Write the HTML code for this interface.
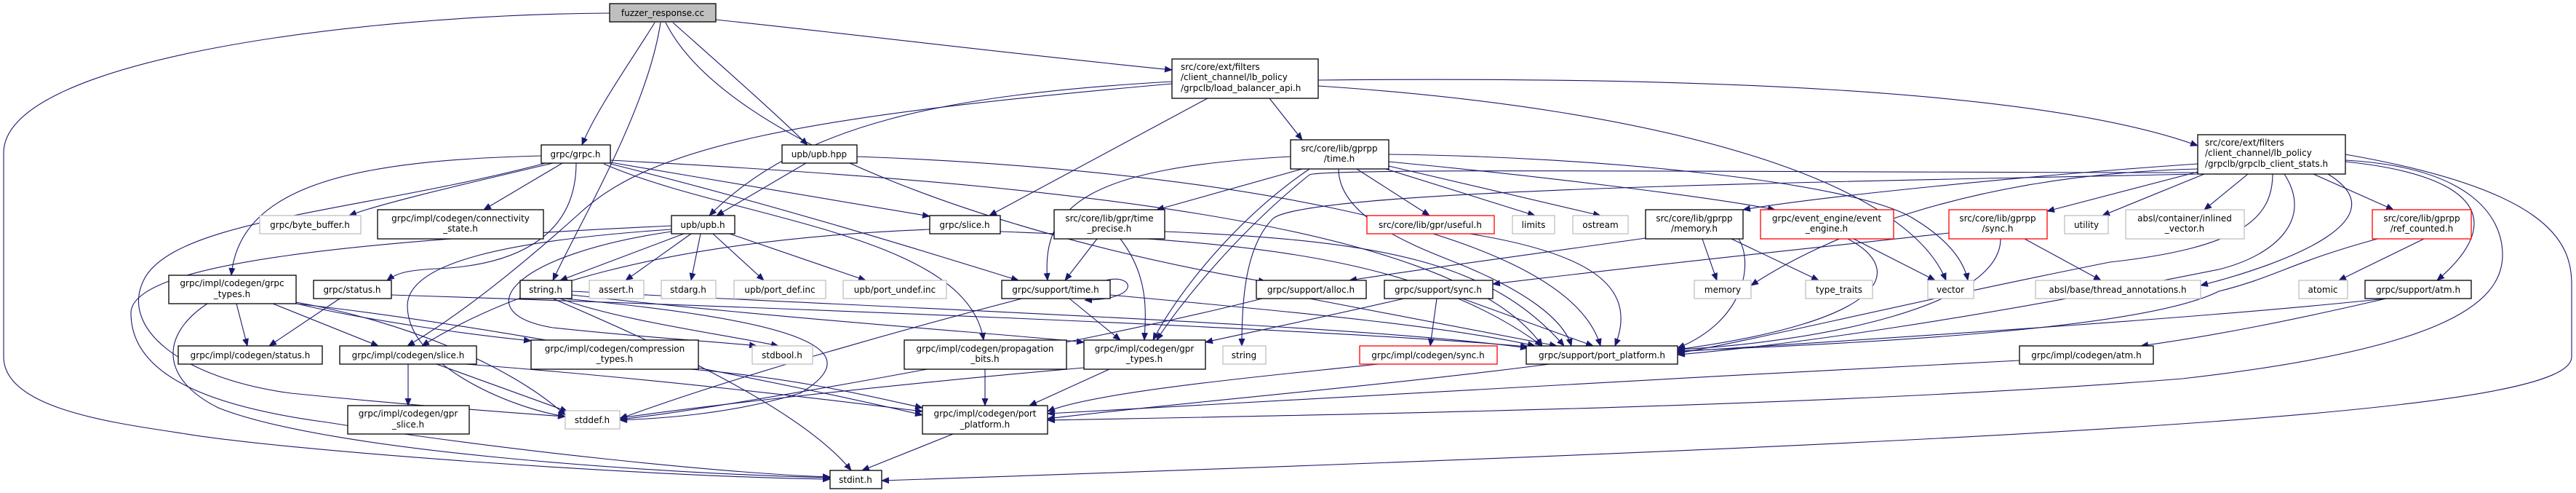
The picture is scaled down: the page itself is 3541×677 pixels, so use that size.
<!DOCTYPE html>
<html><head><meta charset="utf-8"><style>
html,body{margin:0;padding:0;background:#fff;}
svg{display:block;}
text{font-family:"DejaVu Sans","Liberation Sans",sans-serif;font-size:12px;fill:#000;}
.n{fill:#fff;stroke:#000;stroke-width:1.3;}
.g{fill:#fff;stroke:#bfbfbf;stroke-width:1.3;}
.r{fill:#fff;stroke:#ff0000;stroke-width:1.3;}
.e{fill:none;stroke:#191970;stroke-width:1.1;marker-end:url(#a);}
</style></head><body>
<svg width="3541" height="677" viewBox="0 0 3541 677" xmlns="http://www.w3.org/2000/svg">
<defs><marker id="a" markerWidth="11" markerHeight="9" refX="10" refY="4.5" orient="auto" markerUnits="userSpaceOnUse"><path d="M0,0L11,4.5L0,9z" fill="#191970"/></marker></defs>
<g>
<!-- fuzzer edges -->
<path class="e" d="M900,31 C870,80 820,150 800,199"/>
<path class="e" d="M908,31 C890,150 800,300 760,385"/>
<path class="e" d="M925,31 C980,80 1060,150 1110,199"/>
<path class="e" d="M915,31 C1000,200 1400,330 1740,387"/>
<path class="e" d="M984,27 C1200,50 1400,75 1611,96"/>
<path class="e" d="M838,18 C500,20 5,80 5,210 L5,490 C5,560 150,580 250,595 C400,620 900,655 1141,658"/>
<!-- grpc.h -->
<path class="e" d="M760,224 C650,250 520,280 480,296"/>
<path class="e" d="M773,224 L665,288"/>
<path class="e" d="M744,214 C500,220 330,250 318,378"/>
<path class="e" d="M792,224 C792,330 700,365 600,369 C560,371 545,375 532,385"/>
<path class="e" d="M839,223 C1000,250 1200,285 1278,297"/>
<path class="e" d="M839,225 C1100,290 1350,370 1400,385"/>
<path class="e" d="M830,225 C1000,300 1330,320 1352,467"/>
<path class="e" d="M839,220 C1400,250 2000,300 2120,475"/>
<path class="e" d="M750,224 C500,290 250,300 200,380 C160,450 250,520 400,540 C600,560 720,568 777,572"/>
<!-- upb.hpp -->
<path class="e" d="M1108,224 L985,296"/>
<path class="e" d="M1178,215 C1600,230 2150,300 2200,475"/>
<!-- load_balancer_api -->
<path class="e" d="M1611,112 C1300,130 1100,170 975,296"/>
<path class="e" d="M1660,135 L1360,296"/>
<path class="e" d="M1745,135 L1790,192"/>
<path class="e" d="M1812,110 C2300,105 2800,120 3021,200"/>
<path class="e" d="M1812,118 C2300,150 2620,250 2675,385"/>
<path class="e" d="M1611,115 C1100,160 900,200 800,290 C700,380 620,440 560,475"/>
<!-- time.h -->
<path class="e" d="M1774,215 C1500,230 1430,280 1440,385"/>
<path class="e" d="M1790,232 L1590,288"/>
<path class="e" d="M1800,232 C1700,300 1620,400 1585,467"/>
<path class="e" d="M1865,232 L1965,296"/>
<path class="e" d="M1905,232 L2110,296"/>
<path class="e" d="M1909,228 L2200,296"/>
<path class="e" d="M1909,222 C2100,240 2350,270 2440,288"/>
<path class="e" d="M1840,232 C1840,300 1950,340 2000,360 C2100,400 2150,440 2160,475"/>
<path class="e" d="M1909,212 C2200,215 2550,250 2630,300 C2680,330 2700,360 2705,385"/>
<!-- client stats -->
<path class="e" d="M3021,225 C2800,240 2500,270 2396,288"/>
<path class="e" d="M3021,236 L2814,290"/>
<path class="e" d="M3030,239 L2890,296"/>
<path class="e" d="M3090,239 L3030,288"/>
<path class="e" d="M3180,239 L3290,288"/>
<path class="e" d="M3224,222 C3400,240 3450,300 3350,385"/>
<path class="e" d="M3200,239 C3300,300 3150,360 3025,392"/>
<path class="e" d="M3124,239 C3124,300 3080,340 2900,360 C2600,420 2400,470 2306,485"/>
<path class="e" d="M3140,239 C3180,300 3130,350 3050,370 C2700,440 2450,475 2306,487"/>
<path class="e" d="M3224,212 C3500,260 3535,330 3535,390 L3535,490 C3535,560 3000,600 1212,660"/>
<path class="e" d="M3224,220 C3400,230 3440,300 3440,350 C3440,420 3350,480 3000,520 C2500,560 1800,570 1440,577"/>
<path class="e" d="M3021,239 C2500,250 1800,260 1750,300 C1710,340 1707,420 1707,475"/>
<path class="e" d="M3021,237 C2500,237 1820,230 1800,240 C1700,320 1620,420 1590,467"/>
<path class="e" d="M3021,232 C2700,240 2500,330 2407,392"/>
<!-- memory.h, event engine, sync -->
<path class="e" d="M2340,328 L2360,385"/>
<path class="e" d="M2380,328 L2500,385"/>
<path class="e" d="M2390,328 C2410,360 2400,440 2306,478"/>
<path class="e" d="M2262,327 C2100,350 1950,370 1855,385"/>
<path class="e" d="M2548,328 L2660,385"/>
<path class="e" d="M2540,328 C2620,370 2600,440 2306,480"/>
<path class="e" d="M2679,320 C2500,340 2300,360 2052,390"/>
<path class="e" d="M2783,328 L2888,385"/>
<path class="e" d="M2750,328 C2750,420 2500,470 2306,480"/>
<path class="e" d="M3332,328 L3215,385"/>
<path class="e" d="M3268,328 C3150,360 3130,380 3050,400 C2950,450 2600,470 2306,482"/>
<path class="e" d="M3280,410 C3150,440 3050,460 2943,475"/>
<path class="e" d="M3280,410 C3000,440 2500,470 2306,483"/>
<path class="e" d="M2776,495 C2300,520 1700,550 1440,568"/>
<path class="e" d="M2130,500 C1900,530 1600,555 1440,575"/>
<path class="e" d="M1895,500 C1700,520 1500,540 1440,565"/>
<!-- support/time -->
<path class="e" d="M1520,385 C1560,375 1570,412 1491,412"/>
<path class="e" d="M1470,410 L1540,467"/>
<path class="e" d="M1405,410 C1250,450 1000,520 852,575"/>
<path class="e" d="M1526,405 C1800,430 2000,450 2110,475"/>
<path class="e" d="M1508,328 L1464,385"/>
<path class="e" d="M1540,328 C1580,380 1575,430 1573,467"/>
<path class="e" d="M1601,318 C1900,330 2050,360 2150,475"/>
<path class="e" d="M1278,315 C900,330 700,400 580,475"/>
<path class="e" d="M1375,318 C1700,330 1950,350 2120,475"/>
<path class="e" d="M1735,410 C1500,470 1000,560 852,576"/>
<path class="e" d="M1800,410 L2140,475"/>
<path class="e" d="M1975,410 L1966,475"/>
<path class="e" d="M2010,410 L2190,475"/>
<path class="e" d="M1930,410 C1800,440 1700,460 1657,470"/>
<path class="e" d="M2020,321 C2200,350 2250,400 2220,475"/>
<!-- string.h -->
<path class="e" d="M770,410 C850,440 1000,460 1070,475"/>
<path class="e" d="M775,410 C1100,440 1200,480 1100,540 C1000,570 900,575 852,577"/>
<path class="e" d="M760,410 C900,470 1100,560 1170,646"/>
<path class="e" d="M786,405 C1100,440 1400,460 1490,470"/>
<path class="e" d="M786,400 C1400,430 1900,450 2100,478"/>
<!-- upb.h -->
<path class="e" d="M940,321 L770,385"/>
<path class="e" d="M950,321 L860,385"/>
<path class="e" d="M963,321 L950,385"/>
<path class="e" d="M980,321 L1050,385"/>
<path class="e" d="M1003,321 L1190,385"/>
<path class="e" d="M923,315 C700,330 560,360 560,420 C560,500 700,560 777,572"/>
<path class="e" d="M923,318 C700,350 640,430 760,450 C900,465 1000,470 1040,475"/>
<path class="e" d="M923,310 C500,330 180,360 180,430 C180,520 300,560 450,580 C700,620 1000,650 1141,655"/>
<!-- grpc_types etc -->
<path class="e" d="M325,417 L340,475"/>
<path class="e" d="M375,417 L520,475"/>
<path class="e" d="M400,415 C500,440 650,460 730,468"/>
<path class="e" d="M407,415 C550,440 700,500 777,570"/>
<path class="e" d="M407,417 C700,450 1100,530 1268,570"/>
<path class="e" d="M285,417 C220,460 220,520 300,560 C450,620 900,650 1141,656"/>
<path class="e" d="M467,410 L370,475"/>
<path class="e" d="M538,405 C1000,420 1800,450 2100,476"/>
<path class="e" d="M561,500 L561,557"/>
<path class="e" d="M600,500 L780,565"/>
<path class="e" d="M640,500 C900,520 1150,550 1268,565"/>
<path class="e" d="M950,507 C1100,520 1200,545 1268,560"/>
<path class="e" d="M1354,507 L1354,557"/>
<path class="e" d="M1525,507 L1415,557"/>
<path class="e" d="M1490,505 C1200,530 950,560 852,574"/>
<path class="e" d="M1310,596 L1185,646"/>
</g>
<!-- nodes -->
<rect x="838" y="5" width="146" height="25" fill="#bfbfbf" stroke="#000" stroke-width="1.3"/><text x="911" y="22" text-anchor="middle">fuzzer_response.cc</text>
<rect class="n" x="744" y="199" width="95" height="25"/><text x="791" y="216" text-anchor="middle">grpc/grpc.h</text>
<rect class="n" x="1075" y="199" width="103" height="25"/><text x="1126" y="216" text-anchor="middle">upb/upb.hpp</text>
<rect class="n" x="1611" y="81" width="201" height="54"/><text x="1623" y="96">src/core/ext/filters</text><text x="1623" y="110">/client_channel/lb_policy</text><text x="1623" y="125">/grpclb/load_balancer_api.h</text>
<rect class="n" x="3021" y="185" width="203" height="54"/><text x="3031" y="200">src/core/ext/filters</text><text x="3031" y="214">/client_channel/lb_policy</text><text x="3031" y="229">/grpclb/grpclb_client_stats.h</text>
<rect class="n" x="1774" y="192" width="135" height="40"/><text x="1841" y="208" text-anchor="middle">src/core/lib/gprpp</text><text x="1841" y="222" text-anchor="middle">/time.h</text>
<rect class="g" x="357" y="296" width="139" height="25"/><text x="426" y="313" text-anchor="middle">grpc/byte_buffer.h</text>
<rect class="n" x="519" y="288" width="228" height="40"/><text x="633" y="304" text-anchor="middle">grpc/impl/codegen/connectivity</text><text x="633" y="318" text-anchor="middle">_state.h</text>
<rect class="n" x="923" y="296" width="87" height="25"/><text x="966" y="313" text-anchor="middle">upb/upb.h</text>
<rect class="n" x="1278" y="296" width="97" height="25"/><text x="1326" y="313" text-anchor="middle">grpc/slice.h</text>
<rect class="n" x="1449" y="288" width="152" height="40"/><text x="1525" y="304" text-anchor="middle">src/core/lib/gpr/time</text><text x="1525" y="318" text-anchor="middle">_precise.h</text>
<rect class="r" x="1879" y="296" width="175" height="25"/><text x="1966" y="313" text-anchor="middle">src/core/lib/gpr/useful.h</text>
<rect class="g" x="2079" y="296" width="58" height="25"/><text x="2108" y="313" text-anchor="middle">limits</text>
<rect class="g" x="2162" y="296" width="76" height="25"/><text x="2200" y="313" text-anchor="middle">ostream</text>
<rect class="n" x="2262" y="288" width="134" height="40"/><text x="2329" y="304" text-anchor="middle">src/core/lib/gprpp</text><text x="2329" y="318" text-anchor="middle">/memory.h</text>
<rect class="r" x="2420" y="288" width="183" height="40"/><text x="2511" y="304" text-anchor="middle">grpc/event_engine/event</text><text x="2511" y="318" text-anchor="middle">_engine.h</text>
<rect class="r" x="2679" y="288" width="135" height="40"/><text x="2746" y="304" text-anchor="middle">src/core/lib/gprpp</text><text x="2746" y="318" text-anchor="middle">/sync.h</text>
<rect class="g" x="2838" y="296" width="60" height="25"/><text x="2868" y="313" text-anchor="middle">utility</text>
<rect class="g" x="2922" y="288" width="163" height="40"/><text x="3003" y="304" text-anchor="middle">absl/container/inlined</text><text x="3003" y="318" text-anchor="middle">_vector.h</text>
<rect class="r" x="3261" y="288" width="136" height="40"/><text x="3329" y="304" text-anchor="middle">src/core/lib/gprpp</text><text x="3329" y="318" text-anchor="middle">/ref_counted.h</text>
<rect class="n" x="232" y="378" width="175" height="39"/><text x="319" y="393" text-anchor="middle">grpc/impl/codegen/grpc</text><text x="319" y="408" text-anchor="middle">_types.h</text>
<rect class="n" x="431" y="385" width="107" height="25"/><text x="484" y="402" text-anchor="middle">grpc/status.h</text>
<rect class="n" x="715" y="385" width="71" height="25"/><text x="750" y="402" text-anchor="middle">string.h</text>
<rect class="g" x="810" y="385" width="75" height="25"/><text x="847" y="402" text-anchor="middle">assert.h</text>
<rect class="g" x="909" y="385" width="75" height="25"/><text x="946" y="402" text-anchor="middle">stdarg.h</text>
<rect class="g" x="1009" y="385" width="126" height="25"/><text x="1072" y="402" text-anchor="middle">upb/port_def.inc</text>
<rect class="g" x="1159" y="385" width="142" height="25"/><text x="1230" y="402" text-anchor="middle">upb/port_undef.inc</text>
<rect class="n" x="1377" y="385" width="149" height="25"/><text x="1451" y="402" text-anchor="middle">grpc/support/time.h</text>
<rect class="n" x="1727" y="385" width="151" height="25"/><text x="1802" y="402" text-anchor="middle">grpc/support/alloc.h</text>
<rect class="n" x="1903" y="385" width="149" height="25"/><text x="1977" y="402" text-anchor="middle">grpc/support/sync.h</text>
<rect class="g" x="2329" y="385" width="78" height="25"/><text x="2368" y="402" text-anchor="middle">memory</text>
<rect class="g" x="2482" y="385" width="92" height="25"/><text x="2528" y="402" text-anchor="middle">type_traits</text>
<rect class="g" x="2650" y="385" width="63" height="25"/><text x="2681" y="402" text-anchor="middle">vector</text>
<rect class="g" x="2798" y="385" width="227" height="25"/><text x="2911" y="402" text-anchor="middle">absl/base/thread_annotations.h</text>
<rect class="g" x="3160" y="385" width="67" height="25"/><text x="3193" y="402" text-anchor="middle">atomic</text>
<rect class="n" x="3251" y="385" width="146" height="25"/><text x="3324" y="402" text-anchor="middle">grpc/support/atm.h</text>
<rect class="n" x="245" y="475" width="198" height="25"/><text x="344" y="492" text-anchor="middle">grpc/impl/codegen/status.h</text>
<rect class="n" x="467" y="475" width="188" height="25"/><text x="561" y="492" text-anchor="middle">grpc/impl/codegen/slice.h</text>
<rect class="n" x="730" y="467" width="230" height="40"/><text x="845" y="483" text-anchor="middle">grpc/impl/codegen/compression</text><text x="845" y="497" text-anchor="middle">_types.h</text>
<rect class="g" x="1034" y="475" width="83" height="25"/><text x="1075" y="492" text-anchor="middle">stdbool.h</text>
<rect class="n" x="1243" y="467" width="223" height="40"/><text x="1354" y="483" text-anchor="middle">grpc/impl/codegen/propagation</text><text x="1354" y="497" text-anchor="middle">_bits.h</text>
<rect class="n" x="1490" y="467" width="167" height="40"/><text x="1573" y="483" text-anchor="middle">grpc/impl/codegen/gpr</text><text x="1573" y="497" text-anchor="middle">_types.h</text>
<rect class="g" x="1681" y="475" width="59" height="25"/><text x="1710" y="492" text-anchor="middle">string</text>
<rect class="r" x="1869" y="475" width="189" height="25"/><text x="1963" y="492" text-anchor="middle">grpc/impl/codegen/sync.h</text>
<rect class="n" x="2098" y="475" width="208" height="25"/><text x="2202" y="492" text-anchor="middle">grpc/support/port_platform.h</text>
<rect class="n" x="2776" y="475" width="184" height="25"/><text x="2868" y="492" text-anchor="middle">grpc/impl/codegen/atm.h</text>
<rect class="n" x="478" y="557" width="167" height="39"/><text x="561" y="572" text-anchor="middle">grpc/impl/codegen/gpr</text><text x="561" y="587" text-anchor="middle">_slice.h</text>
<rect class="g" x="777" y="564" width="75" height="25"/><text x="814" y="581" text-anchor="middle">stddef.h</text>
<rect class="n" x="1268" y="557" width="172" height="39"/><text x="1354" y="572" text-anchor="middle">grpc/impl/codegen/port</text><text x="1354" y="587" text-anchor="middle">_platform.h</text>
<rect class="n" x="1141" y="646" width="71" height="25"/><text x="1176" y="663" text-anchor="middle">stdint.h</text>
</svg>
</body></html>
